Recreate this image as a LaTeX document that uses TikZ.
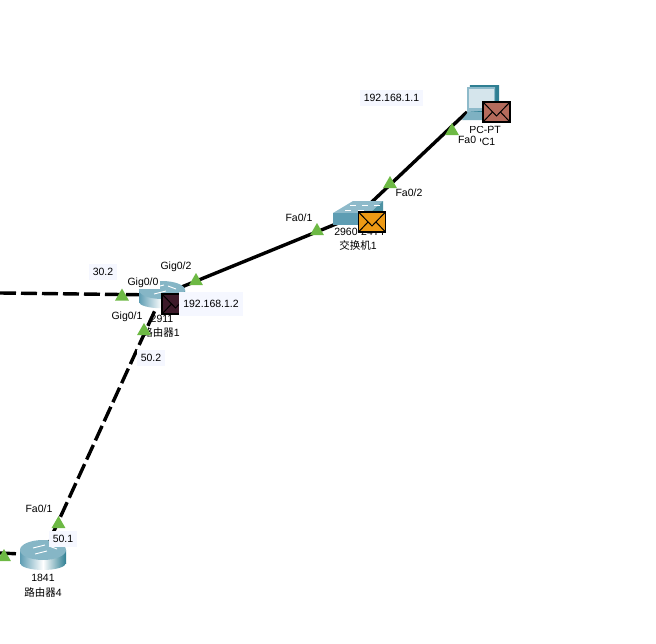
\documentclass[tikz,border=0pt]{standalone}
\usepackage{fontspec}
\setmainfont{Liberation Sans}
\newfontfamily\cjk{Noto Sans CJK SC}
\usetikzlibrary{shapes.geometric}
\definecolor{portgreen}{HTML}{6DB944}
\definecolor{boxpale}{HTML}{F5F7FF}
\definecolor{devblue}{HTML}{5E9DB3}
\definecolor{devdark}{HTML}{2F7F93}
\definecolor{screenpale}{HTML}{D5E5EC}
\definecolor{mailred}{HTML}{B56B5C}
\definecolor{mailorange}{HTML}{EE9A14}
\definecolor{maildark}{HTML}{3D1A2A}
\tikzset{
	link/.style={line width=3.4pt, black},
	dashlink/.style={link, dash pattern=on 16pt off 5pt},
	port/.style={regular polygon, regular polygon sides=3, fill=portgreen, minimum size=16pt, inner sep=0pt},
	txt/.style={font=\fontsize{10.5}{12}\selectfont, inner sep=1pt, text=black},
	whitebox/.style={txt, fill=white, inner sep=1.5pt},
	palebox/.style={txt, fill=boxpale, inner sep=4pt},
	mail/.style={draw=black, line width=1.5pt, fill=#1, minimum width=27pt, minimum height=20pt, inner sep=0pt,
		path picture={
			\draw[line width=1pt] (path picture bounding box.north west) -- ([yshift=-4pt]path picture bounding box.center) -- (path picture bounding box.north east);
			\draw[line width=1pt] (path picture bounding box.south west) -- ([xshift=-4pt]path picture bounding box.center);
			\draw[line width=1pt] (path picture bounding box.south east) -- ([xshift=4pt]path picture bounding box.center);
		}},
}
\begin{document}
\begin{tikzpicture}[x=1pt, y=-1pt]
	\useasboundingbox (0,0) rectangle (656,643);
	\coordinate (pc1) at (467,112);
	\coordinate (sw1) at (358,215);
	\coordinate (r1) at (162,295);
	\coordinate (r4) at (43,555);
	\coordinate (westA) at (0,293);
	\coordinate (westB) at (0,553);
	% links
	\draw[link] (pc1) -- (sw1);
	\draw[link] (sw1) -- (r1);
	\draw[dashlink] (westA) -- (r1);
	\draw[dashlink] (r4) -- (r1);
	\draw[dashlink] (westB) -- (r4);
	% PC
	\fill[devdark] (470,85) -- (499,85) -- (499,110) -- (490,112) -- (467,112) -- cycle;
	\fill[devblue!70] (467,87) -- (495,87) -- (495,110) -- (467,112) -- cycle;
	\fill[screenpale] (469,89) rectangle (494,108);
	\fill[devblue!80] (468,112) -- (490,112) -- (490,120) -- (462,120) -- cycle;
	% switch
	\fill[devblue!70] (333,213) -- (353,201) -- (383,201) -- (370,213) -- cycle;
	\fill[devdark!85] (370,213) -- (383,201) -- (383,215) -- (370,225) -- cycle;
	\fill[devblue] (333,213) rectangle (370,225);
	\foreach \x\y in {350/205,362/205,374/205,345/210,358/210}{
		\draw[white, line width=0.6pt] (\x,\y) -- (\x+6,\y);
	}
	% routers
	\foreach \x\y\w\h in {162/290/23/9,43/550/23/10}{
		\shade[left color=devblue, right color=devdark, middle color=white] (\x-\w,\y) rectangle (\x+\w,\y+\h+3);
		\shade[left color=devblue, right color=devdark, middle color=white] (\x,\y+\h+3) ellipse [x radius=\w, y radius=\h*0.7];
		\fill[devblue!75] (\x,\y) ellipse [x radius=\w, y radius=\h];
		\draw[white, line width=0.9pt] (\x-10,\y-2) -- (\x+2,\y-5);
		\draw[white, line width=0.9pt] (\x-8,\y+4) -- (\x+4,\y+1);
		\draw[white, line width=0.9pt] (\x+6,\y-4) -- (\x+14,\y-1);
	}
	% labels under the mail
	\foreach \n\x\y\t in {lblPc/485/130/PC-PT, lblPcB/485/142/PC1, lblSw/360/232/2960-24TT, lblSwB/358/245/{\cjk 交换机}1, lblRa/162/319/2911, lblRaB/161/332/{\cjk 路由器}1, lblRb/43/578/1841, lblRbB/43/592/{\cjk 路由器}4}{
		\node[txt] (\n) at (\x,\y) {\t};
	}
	\fill[white] (465,120.5) rectangle (490,125.5);
	% mail
	\node[mail=mailred] (mailPc) at (496.5,112) {};
	\node[mail=mailorange] (mailSw) at (372,222) {};
	\node[mail=maildark] (mailRa) at (175.5,304) {};
	% port names
	\node[whitebox, text width=20pt] (fa0) at (468,140) {Fa0};
	\foreach \n\x\y\t in {fa2/409/193/{Fa0/2}, fa1/299/218/{Fa0/1}, gig2/176/267/{Gig0/2}, gig0/143/283/{Gig0/0}, gig1/127/317/{Gig0/1}, faR/39/509/{Fa0/1}}{
		\node[whitebox] (\n) at (\x,\y) {\t};
	}
	\node[palebox] (ipPc) at (391.5,98) {192.168.1.1};
	\node[palebox, minimum height=24pt] (ipRa) at (211,304) {192.168.1.2};
	\node[palebox] (ipA) at (103,272) {30.2};
	\node[palebox] (ipB) at (151,358) {50.2};
	\node[palebox] (ipC) at (63,539) {50.1};
	% port marks
	\foreach \n\x\y in {a/452/131,b/390/184,c/317/231,d/196/281,e/122/296.5,f/144/331,g/58.5/524,h/4/557}{
		\node[port] (p\n) at (\x,\y) {};
	}
\end{tikzpicture}
\end{document}
